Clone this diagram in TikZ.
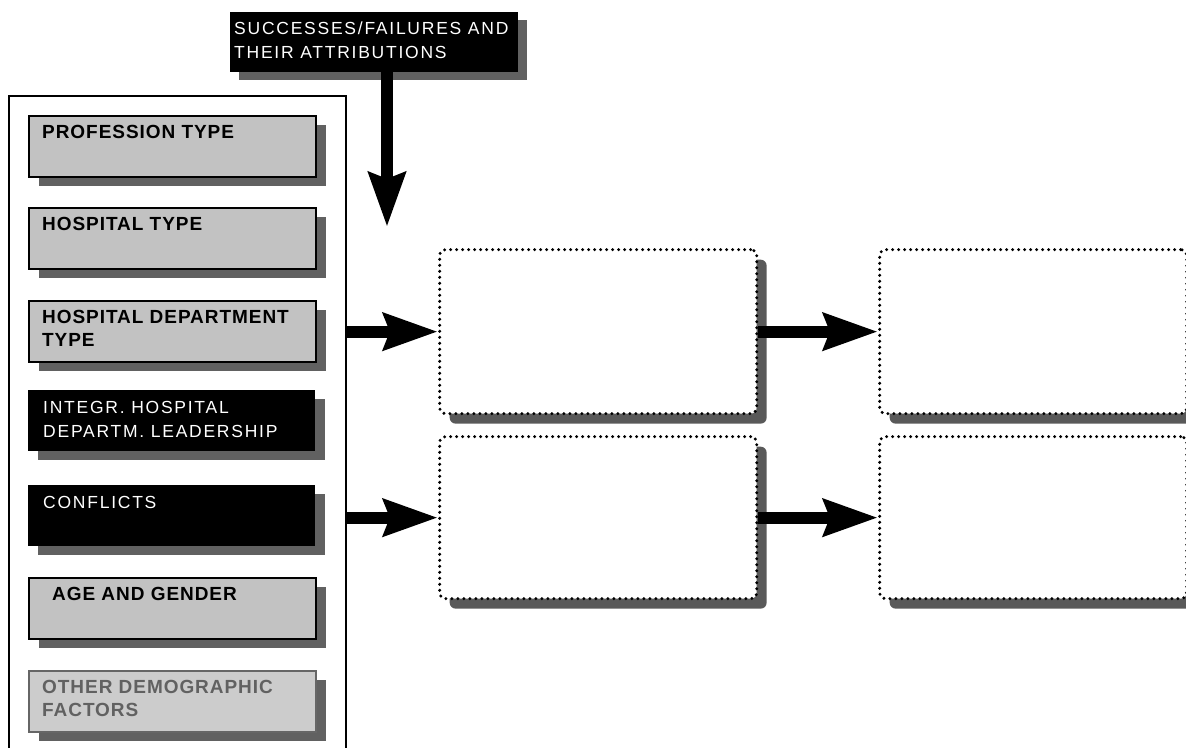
\documentclass[tikz,border=0pt]{standalone}
\usepackage{fontspec}
\setmainfont{Liberation Sans}
\newfontfamily\regfont[LetterSpace=10]{Liberation Sans}
\newfontfamily\heavyfont[LetterSpace=5]{Liberation Sans}
\usetikzlibrary{shadows,arrows.meta}

\tikzset{
  % small factor boxes inside the left panel
  factor/.style={rectangle, anchor=north west, minimum width=287pt, minimum height=61pt,
    inner sep=0pt,
    drop shadow={shadow xshift=10pt, shadow yshift=-9pt, fill=black!62, opacity=1}},
  lightfactor/.style={factor, draw=black, line width=2.2pt, fill=black!24},
  dimfactor/.style={factor, draw=black!60, line width=1.6pt, fill=black!20},
  darkfactor/.style={factor, fill=black},
  boldtext/.style={anchor=north west, inner xsep=14pt, inner ysep=10pt, align=left,
    font=\heavyfont\bfseries\fontsize{19pt}{23.5pt}\selectfont, text=black},
  whitetext/.style={anchor=north west, inner xsep=15pt, inner ysep=11pt, align=left,
    font=\regfont\fontsize{17.5pt}{24pt}\selectfont, text=white},
  % empty dotted stage boxes
  stage/.style={rectangle, anchor=north west, draw=black, fill=white, line width=3.3pt,
    dash pattern=on 0pt off 6pt, line cap=round, rounded corners=6pt, inner sep=0pt,
    drop shadow={shadow xshift=10pt, shadow yshift=-10pt, fill=black!65, opacity=1}},
  bigarrow/.style={line width=12pt, -{Stealth[length=54pt, width=36pt, inset=6pt]}}
}

\begin{document}
\begin{tikzpicture}[x=1pt, y=-1pt]
\useasboundingbox (0,0) rectangle (1186,747);
\clip (0,0) rectangle (1186,747);

% left panel holding the factors
\node[draw=black, line width=2.2pt, anchor=north west, minimum width=337pt,
      minimum height=680pt, inner sep=0pt] (panel) at (8,95) {};

\node[lightfactor, label={[boldtext]north west:PROFESSION TYPE}] (prof) at (28,115) {};
\node[lightfactor, label={[boldtext]north west:HOSPITAL TYPE}] (hosp) at (28,207) {};
\node[lightfactor, label={[boldtext]north west:{HOSPITAL DEPARTMENT\\TYPE}}] (dept) at (28,300) {};
\node[darkfactor, label={[whitetext]north west:{INTEGR. HOSPITAL\\DEPARTM. LEADERSHIP}}] (lead) at (28,390) {};
\node[darkfactor, label={[whitetext]north west:CONFLICTS}] (confl) at (28,485) {};
\node[lightfactor, label={[boldtext, xshift=10pt]north west:AGE AND GENDER}] (age) at (28,577) {};
\node[dimfactor, label={[boldtext, text=black!62]north west:{OTHER DEMOGRAPHIC\\FACTORS}}] (other) at (28,670) {};

% moderating input at the top
\node[rectangle, anchor=north west, fill=black, minimum width=288pt, minimum height=60pt,
      inner sep=0pt,
      drop shadow={shadow xshift=9pt, shadow yshift=-8pt, fill=black!62, opacity=1},
      label={[whitetext, inner xsep=4pt, inner ysep=10pt]north west:{SUCCESSES/FAILURES AND\\THEIR ATTRIBUTIONS}}]
      (succ) at (230,12) {};

% stage boxes
\node[stage, minimum width=317pt, minimum height=164pt] (mida) at (438,248) {};
\node[stage, minimum width=317pt, minimum height=162pt] (midb) at (438,435) {};
\node[stage, minimum width=307pt, minimum height=164pt] (outa) at (878,248) {};
\node[stage, minimum width=307pt, minimum height=162pt] (outb) at (878,435) {};

% arrows
\coordinate (drop) at (387,227);
\draw[bigarrow] (succ.south -| drop) -- (drop);
\draw[bigarrow] (panel.east |- mida.west) -- (mida.west);
\draw[bigarrow] (panel.east |- midb.west) -- (midb.west);
\draw[bigarrow] (mida.east) -- (outa.west);
\draw[bigarrow] (midb.east) -- (outb.west);
\end{tikzpicture}
\end{document}
